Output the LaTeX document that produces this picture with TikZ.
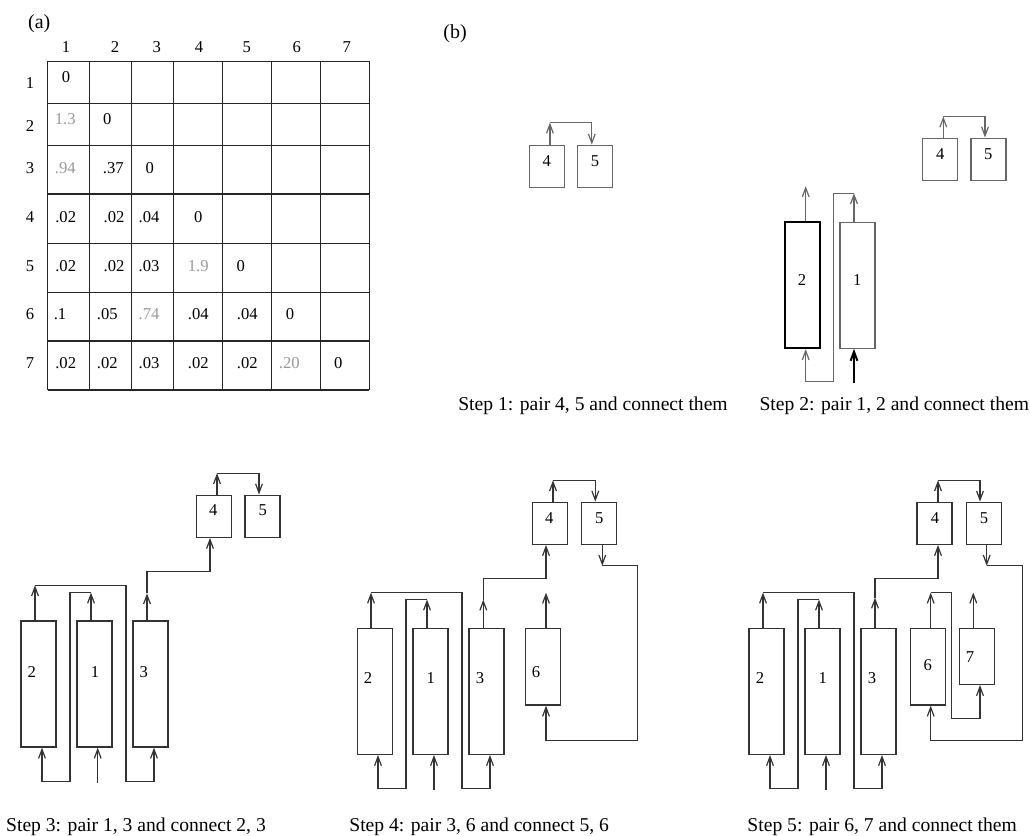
\documentclass[tikz,border=0pt]{standalone}
\usepackage{fontspec}
\setmainfont{Liberation Serif}
\usetikzlibrary{arrows.meta}

\tikzset{
  unit/.style={draw=black!80, line width=0.7pt, minimum width=17.5pt, inner sep=0pt},
  small/.style={unit, minimum height=21pt},
  tall/.style={unit, minimum height=63pt},
  flow/.style={draw=black!80, line width=0.6pt, -{Straight Barb[length=4.5pt,width=3.4pt]}},
  cellline/.style={draw=black!85, line width=0.7pt},
  weak/.style={text=black!40},
  steptext/.style={font=\fontsize{9.8}{12}\selectfont, anchor=base},
  parttag/.style={font=\fontsize{10}{12}\selectfont},
}

\begin{document}
\begin{tikzpicture}[x=0.5pt,y=-0.5pt,font=\fontsize{8.3}{10}\selectfont]
\useasboundingbox (0,0) rectangle (1030,836);

% (a) distance matrix
\node[parttag] (la) at (39.3,23.3) {(a)};
\foreach \x in {47.7,89.3,131.3,173.3,222.3,271.3,320.7,369.3}
  \draw[cellline] (\x,61.3) -- (\x,390);
\foreach \y in {61.3,103.3,145.3,194,243.3,292.3,341,390}
  \draw[cellline] (47.7,\y) -- (369.3,\y);
\foreach \i/\x in {1/66,2/115,3/156.7,4/199,5/246.7,6/296.7,7/346.7}
  \node (ch\i) at (\x,46.7) {\i};
\foreach \i/\y in {1/83.3,2/126,3/168.3,4/216.7,5/265.7,6/314.3,7/363.3}
  \node (rh\i) at (30,\y) {\i};

% entries
\foreach \n/\x/\y/\t in {11/66/77.3/0, 22/107.3/119/0,
    32/113.3/167.7/.37, 33/149.7/167.7/0,
    41/65.7/216.7/.02, 42/114/216.7/.02, 43/149/216.7/.04, 44/198.3/216.7/0,
    51/65.7/265.7/.02, 52/114/265.7/.02, 53/149/265.7/.03, 55/240.7/265.7/0,
    61/60/314.3/.1, 62/107.3/314.3/.05, 64/198.3/314.3/.04, 65/247.3/314.3/.04, 66/290/314.3/0,
    71/65.7/363.3/.02, 72/107.3/363.3/.02, 73/149/363.3/.03, 74/198.3/363.3/.02,
    75/247.3/363.3/.02, 77/338.3/363.3/0}
  \node (e\n) at (\x,\y) {\t};
\foreach \n/\x/\y/\t in {21/65.3/119/1.3, 31/65.3/167.7/.94, 54/198.3/265.7/1.9,
    63/149/314.3/.74, 76/289.3/363.3/.20}
  \node[weak] (e\n) at (\x,\y) {\t};

% (b) steps
\node[parttag] (lb) at (455,34) {(b)};

\begin{scope}[unit/.append style={draw=black!60}, flow/.append style={draw=black!60}]
% Step 1
\node[small] (s1b4) at (546.7,166.3) {};
\node[small] (s1b5) at (595,166.3) {};
\node (s1t4) at (546.7,160.7) {4};
\node (s1t5) at (595,160.7) {5};
\draw[flow] ([xshift=1.6pt]s1b4.north) -- ++(0,-22) coordinate (s1k4);
\draw[flow] (s1k4) -| ([xshift=-1.6pt]s1b5.north);

% Step 2
\node[small] (s2b4) at (940.2,159.2) {};
\node[small] (s2b5) at (988.5,159.2) {};
\node (s2t4) at (940.2,154) {4};
\node (s2t5) at (988.3,154) {5};
\draw[flow] ([xshift=1.55pt]s2b4.north) -- ++(0,-21) coordinate (s2k4);
\draw[flow] (s2k4) -| ([xshift=-1.75pt]s2b5.north);

\node[tall, draw=black, line width=1pt] (s2b2) at (802.3,285.2) {};
\node[tall] (s2b1) at (857.3,285.2) {};
\node (s2t2) at (802,280) {2};
\node (s2t1) at (857.3,280) {1};
\draw[flow] ([xshift=1.7pt]s2b2.north) -- ++(0,-35) coordinate (s2k2);
\draw[flow] ([xshift=-1.65pt]s2b1.north) -- ++(0,-28.3) coordinate (s2k1);
\draw[flow] (s2k1) -| ++(-20.7,188.3) -| ([xshift=1.7pt]s2b2.south);
\draw[flow, draw=black, line width=1pt] ([xshift=-1.65pt,yshift=-17.2pt]s2b1.south) -- ([xshift=-1.65pt]s2b1.south);
\end{scope}

\node[steptext] (c1) at (593,410) {Step 1: pair 4, 5 and connect them};
\node[steptext] (c2) at (894.3,410) {Step 2: pair 1, 2 and connect them};

% Step 3
\node[small] (s3b4) at (213.7,516.2) {};
\node[small] (s3b5) at (262.5,516.2) {};
\node (s3t4) at (213.3,510) {4};
\node (s3t5) at (262.7,510) {5};
\draw[flow] ([xshift=1.65pt]s3b4.north) -- ++(0,-21.3) coordinate (s3k4);
\draw[flow] (s3k4) -| ([xshift=-1.75pt]s3b5.north);

\node[tall] (s3b2) at (38.5,684) {};
\node[tall] (s3b1) at (94.5,684) {};
\node[tall] (s3b3) at (150.5,684) {};
\node (s3t2) at (31.7,671.7) {2};
\node (s3t1) at (95,671.7) {1};
\node (s3t3) at (143.7,671.7) {3};
\draw[flow] ([xshift=-1.75pt]s3b2.north) -- ++(0,-35) coordinate (s3k2);
\draw[flow] (s3k2) -| ++(91,196) -| ([xshift=1.75pt]s3b3.south);
\draw[flow] ([xshift=-1.75pt]s3b1.north) -- ++(0,-27.7) coordinate (s3k1);
\draw[flow] (s3k1) -| ++(-21,188.7) -| ([xshift=1.75pt]s3b2.south);
\draw[flow] ([xshift=1.6pt,yshift=-17.5pt]s3b1.south) -- ([xshift=1.6pt]s3b1.south);
\draw[flow] ([xshift=-1.75pt]s3b3.north) -- ++(0,-27) coordinate (s3k3);
\draw[flow] (s3k3) -- ++(0,-22) -| ([xshift=-1.85pt]s3b4.south);

\node[steptext] (c3) at (136,831.5) {Step 3: pair 1, 3 and connect 2, 3};

% Step 4
\node[small] (s4b4) at (549.7,523.3) {};
\node[small] (s4b5) at (598.7,523.3) {};
\node (s4t4) at (549.3,517.7) {4};
\node (s4t5) at (599.3,517.7) {5};
\draw[flow] ([xshift=1.65pt]s4b4.north) -- ++(0,-21.3) coordinate (s4k4);
\draw[flow] (s4k4) -| ([xshift=-1.7pt]s4b5.north);
\draw[flow] ([xshift=1.8pt]s4b5.south) -- ++(0,20.7) coordinate (s4k5);

\node[tall] (s4b2) at (374.7,691.3) {};
\node[tall] (s4b1) at (430.5,691.3) {};
\node[tall] (s4b3) at (486.5,691.3) {};
\node[unit, minimum height=38.3pt] (s4b6) at (542.8,666.7) {};
\node (s4t2) at (368,678.3) {2};
\node (s4t1) at (430.7,678.3) {1};
\node (s4t3) at (480,678.3) {3};
\node (s4t6) at (536,671.7) {6};
\draw[flow] ([xshift=-1.85pt]s4b2.north) -- ++(0,-35) coordinate (s4k2);
\draw[flow] (s4k2) -| ++(91,195.7) -| ([xshift=1.75pt]s4b3.south);
\draw[flow] ([xshift=-1.75pt]s4b1.north) -- ++(0,-28) coordinate (s4k1);
\draw[flow] (s4k1) -| ++(-21,188.7) -| ([xshift=1.65pt]s4b2.south);
\draw[flow] ([xshift=1.75pt,yshift=-17.35pt]s4b1.south) -- ([xshift=1.75pt]s4b1.south);
\draw[flow] ([xshift=-1.6pt]s4b3.north) -- ++(0,-28) coordinate (s4k3);
\draw[flow] (s4k3) -- ++(0,-21) -| ([xshift=-1.85pt]s4b4.south);
\draw[flow] ([xshift=1.6pt]s4b6.north) -- ++(0,-35) coordinate (s4k6);
\draw[flow] (s4k5) -| ++(35,175) -| ([xshift=1.6pt]s4b6.south);

\node[steptext] (c4) at (479.2,831.5) {Step 4: pair 3, 6 and connect 5, 6};

% Step 5
\node[small] (s5b4) at (934.5,523.3) {};
\node[small] (s5b5) at (983.7,523.3) {};
\node (s5t4) at (935,517.7) {4};
\node (s5t5) at (984,517.7) {5};
\draw[flow] ([xshift=1.75pt]s5b4.north) -- ++(0,-21.3) coordinate (s5k4);
\draw[flow] (s5k4) -| ([xshift=-1.85pt]s5b5.north);
\draw[flow] ([xshift=1.5pt]s5b5.south) -- ++(0,20.7) coordinate (s5k5);

\node[tall] (s5b2) at (766.5,691.3) {};
\node[tall] (s5b1) at (822.5,691.3) {};
\node[tall] (s5b3) at (878.5,691.3) {};
\node[unit, minimum height=38.3pt] (s5b6) at (927.7,666.7) {};
\node[unit, minimum height=28pt] (s5b7) at (976.7,656.3) {};
\node (s5t2) at (760,678.3) {2};
\node (s5t1) at (822.7,678.3) {1};
\node (s5t3) at (872,678.3) {3};
\node (s5t6) at (927.7,665) {6};
\node (s5t7) at (970,656.7) {7};
\draw[flow] ([xshift=-1.75pt]s5b2.north) -- ++(0,-35) coordinate (s5k2);
\draw[flow] (s5k2) -| ++(91,195.7) -| ([xshift=1.75pt]s5b3.south);
\draw[flow] ([xshift=-1.75pt]s5b1.north) -- ++(0,-28) coordinate (s5k1);
\draw[flow] (s5k1) -| ++(-21,188.7) -| ([xshift=1.75pt]s5b2.south);
\draw[flow] ([xshift=1.75pt,yshift=-17.35pt]s5b1.south) -- ([xshift=1.75pt]s5b1.south);
\draw[flow] ([xshift=-1.75pt]s5b3.north) -- ++(0,-30) coordinate (s5k3);
\draw[flow] (s5k3) -- ++(0,-19) -| ([xshift=1.75pt]s5b4.south);
\draw[flow] ([xshift=1.5pt]s5b6.north) -- ++(0,-35) coordinate (s5k6);
\draw[flow] (s5k6) -| ++(21,125.7) -| ([xshift=1.65pt]s5b7.south);
\draw[flow] ([xshift=-1.7pt]s5b7.north) -- ++(0,-35) coordinate (s5k7);
\draw[flow] (s5k5) -| ++(35.6,175) -| ([xshift=1.5pt]s5b6.south);

\node[steptext] (c5) at (882.2,831.5) {Step 5: pair 6, 7 and connect them};
\end{tikzpicture}
\end{document}
